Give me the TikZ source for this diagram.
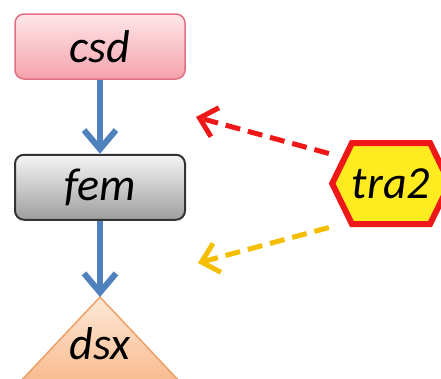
\documentclass[tikz,border=0pt]{standalone}
\usepackage{fontspec}
\setmainfont{Carlito}
\usetikzlibrary{arrows.meta, positioning, shapes.symbols}
\definecolor{flowblue}{RGB}{79,129,189}
\definecolor{hintred}{RGB}{238,24,24}
\definecolor{hintgold}{RGB}{246,190,0}

\begin{document}
\begin{tikzpicture}[
  x=1pt, y=-1pt,
  every node/.style={font=\itshape\fontsize{46}{52}\selectfont, inner sep=0pt},
  stagebox/.style={rounded corners=9pt, minimum width=170pt, minimum height=65pt},
  flow/.style={draw=flowblue, line width=6pt, -{Straight Barb[length=19pt,width=32pt]}},
  hint/.style={line width=5pt, dash pattern=on 15pt off 8pt, -{Straight Barb[length=16pt,width=30pt]}}
]
\clip (0,0) rectangle (441,378);
\useasboundingbox (0,0) rectangle (441,378);

% Stages
\node[stagebox, draw={rgb,255:red,226;green,112;blue,130}, line width=1.5pt,
      top color={rgb,255:red,253;green,230;blue,232}, bottom color={rgb,255:red,246;green,162;blue,172}]
      (csd) at (100,46.5) {csd};
\node[stagebox, below=74pt of csd, draw=black!80, line width=2pt,
      top color=black!4, bottom color=black!38]
      (fem) {fem};

% Output triangle
\coordinate (dsxtop) at (100,297);
\path[draw={rgb,255:red,240;green,160;blue,100}, line width=1.5pt,
      top color={rgb,255:red,253;green,232;blue,214}, bottom color={rgb,255:red,247;green,178;blue,128}]
      (dsxtop) -- (3,400) -- (197,400) -- cycle;
\node (dsx) at (100,344) {dsx};

% Trigger
\node[signal, signal to=west and east, signal pointer angle=128,
      minimum width=114pt, minimum height=81pt,
      draw=hintred, line width=6pt, fill={rgb,255:red,255;green,236;blue,32}]
      (tra2) at (391,183.5) {tra2};

% Arrows
\draw[flow] (csd) -- (fem);
\draw[flow] (fem) -- (dsxtop);

\coordinate (redtip) at (196,117);
\coordinate (goldtip) at (198,263);
\draw[hint, draw=hintred] ([yshift=30pt]tra2.west) -- (redtip);
\draw[hint, draw=hintgold] ([yshift=-44pt]tra2.west) -- (goldtip);

\end{tikzpicture}
\end{document}
